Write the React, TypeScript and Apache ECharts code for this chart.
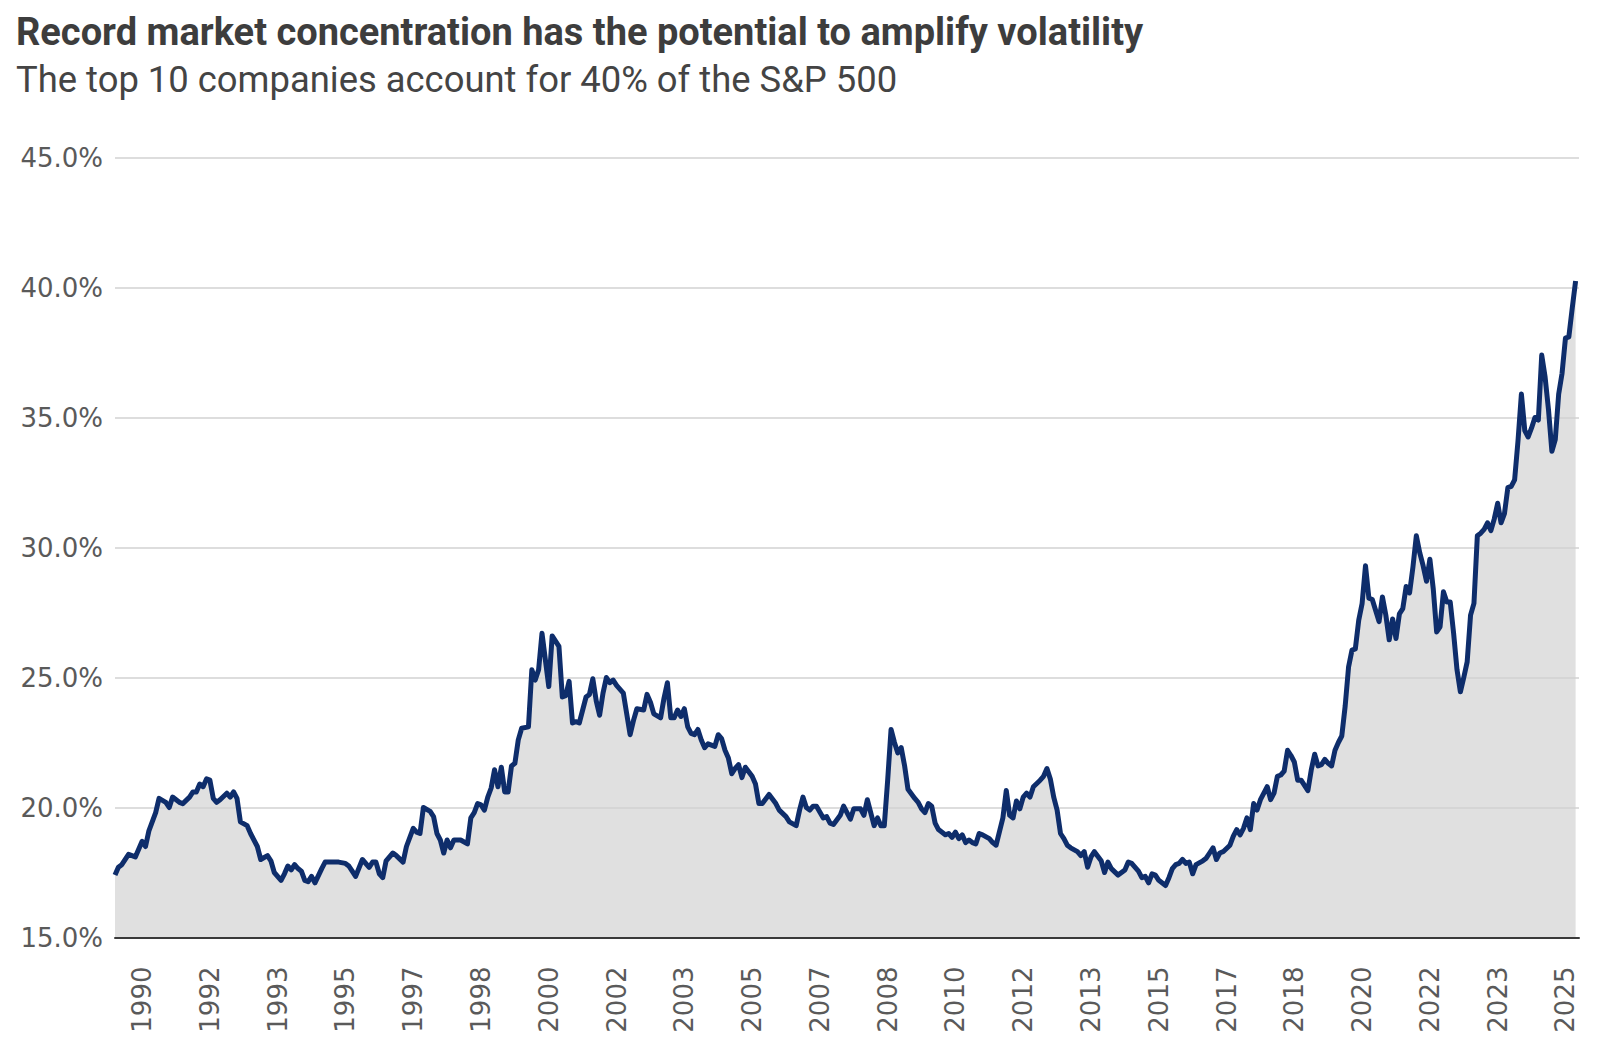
import React, { useEffect, useRef } from "react";
import * as echarts from "echarts";

const TITLE = "Record market concentration has the potential to amplify volatility";
const SUBTITLE = "The top 10 companies account for 40% of the S&P 500";

// Monthly categories, Sep 1989 – Sep 2025
const months: string[] = [];
{
  let y = 1989;
  let m = 9;
  while (y < 2025 || (y === 2025 && m <= 9)) {
    months.push(`${y}-${String(m).padStart(2, "0")}`);
    m++;
    if (m > 12) {
      m = 1;
      y++;
    }
  }
}

const yTicks = [15, 20, 25, 30, 35, 40, 45];

// Weight of the top 10 companies in the S&P 500 (%)
const share1989to1995: [string, number][] = [
  ["1989-09", 17.4], ["1989-10", 17.7], ["1989-11", 17.8], ["1990-01", 18.2], ["1990-03", 18.1],
  ["1990-05", 18.7], ["1990-06", 18.5], ["1990-07", 19.1], ["1990-09", 19.8], ["1990-10", 20.35],
  ["1990-12", 20.2], ["1991-01", 20.0], ["1991-02", 20.4], ["1991-04", 20.2], ["1991-05", 20.15],
  ["1991-07", 20.4], ["1991-08", 20.6], ["1991-09", 20.6], ["1991-10", 20.9], ["1991-11", 20.8],
  ["1991-12", 21.1], ["1992-01", 21.05], ["1992-02", 20.35], ["1992-03", 20.2], ["1992-04", 20.3],
  ["1992-06", 20.55], ["1992-07", 20.4], ["1992-08", 20.6], ["1992-09", 20.35], ["1992-10", 19.45],
  ["1992-12", 19.3], ["1993-01", 19.0], ["1993-03", 18.5], ["1993-04", 18.0], ["1993-06", 18.15],
  ["1993-07", 17.95], ["1993-08", 17.5], ["1993-10", 17.2], ["1993-11", 17.45], ["1993-12", 17.75],
  ["1994-01", 17.6], ["1994-02", 17.8], ["1994-03", 17.65], ["1994-04", 17.55], ["1994-05", 17.2],
  ["1994-06", 17.15], ["1994-07", 17.35], ["1994-08", 17.1], ["1994-10", 17.65], ["1994-11", 17.9],
  ["1994-12", 17.9], ["1995-03", 17.9], ["1995-05", 17.85], ["1995-06", 17.75], ["1995-07", 17.55],
  ["1995-08", 17.35], ["1995-10", 18.0], ["1995-12", 17.7],
];

const share1996to2002: [string, number][] = [
  ["1996-01", 17.9], ["1996-02", 17.9], ["1996-03", 17.45], ["1996-04", 17.3], ["1996-05", 17.95],
  ["1996-07", 18.25], ["1996-08", 18.15], ["1996-10", 17.9], ["1996-11", 18.5], ["1997-01", 19.2],
  ["1997-02", 19.05], ["1997-03", 19.0], ["1997-04", 20.0], ["1997-06", 19.85], ["1997-07", 19.65],
  ["1997-08", 19.0], ["1997-09", 18.75], ["1997-10", 18.25], ["1997-11", 18.75], ["1997-12", 18.45],
  ["1998-01", 18.75], ["1998-03", 18.75], ["1998-05", 18.6], ["1998-06", 19.6], ["1998-07", 19.8],
  ["1998-08", 20.15], ["1998-09", 20.1], ["1998-10", 19.9], ["1998-11", 20.4], ["1998-12", 20.75],
  ["1999-01", 21.45], ["1999-02", 20.8], ["1999-03", 21.55], ["1999-04", 20.6], ["1999-05", 20.6],
  ["1999-06", 21.6], ["1999-07", 21.7], ["1999-08", 22.6], ["1999-09", 23.05], ["1999-11", 23.1],
  ["1999-12", 25.3], ["2000-01", 24.9], ["2000-02", 25.3], ["2000-03", 26.7], ["2000-05", 24.65],
  ["2000-06", 26.6], ["2000-08", 26.2], ["2000-09", 24.25], ["2000-10", 24.3], ["2000-11", 24.85],
  ["2000-12", 23.25], ["2001-01", 23.3], ["2001-02", 23.25], ["2001-04", 24.25], ["2001-05", 24.35],
  ["2001-06", 24.95], ["2001-07", 24.1], ["2001-08", 23.55], ["2001-09", 24.4], ["2001-10", 25.0],
  ["2001-11", 24.8], ["2001-12", 24.9], ["2002-01", 24.7], ["2002-03", 24.4], ["2002-04", 23.6],
  ["2002-05", 22.8], ["2002-06", 23.35], ["2002-07", 23.8], ["2002-09", 23.75], ["2002-10", 24.35],
  ["2002-11", 24.05], ["2002-12", 23.6],
];

const share2003to2009: [string, number][] = [
  ["2003-02", 23.45], ["2003-03", 24.2], ["2003-04", 24.8], ["2003-05", 23.45], ["2003-06", 23.45],
  ["2003-07", 23.75], ["2003-08", 23.5], ["2003-09", 23.8], ["2003-10", 23.1], ["2003-11", 22.85],
  ["2003-12", 22.8], ["2004-01", 23.0], ["2004-02", 22.6], ["2004-03", 22.3], ["2004-04", 22.45],
  ["2004-06", 22.35], ["2004-07", 22.8], ["2004-08", 22.65], ["2004-09", 22.2], ["2004-10", 21.9],
  ["2004-11", 21.3], ["2004-12", 21.5], ["2005-01", 21.65], ["2005-02", 21.15], ["2005-03", 21.55],
  ["2005-05", 21.2], ["2005-06", 20.9], ["2005-07", 20.15], ["2005-08", 20.15], ["2005-10", 20.5],
  ["2005-12", 20.15], ["2006-01", 19.9], ["2006-03", 19.65], ["2006-04", 19.45], ["2006-06", 19.3],
  ["2006-07", 19.9], ["2006-08", 20.4], ["2006-09", 20.0], ["2006-10", 19.9], ["2006-11", 20.05],
  ["2006-12", 20.05], ["2007-02", 19.6], ["2007-03", 19.65], ["2007-04", 19.4], ["2007-05", 19.35],
  ["2007-07", 19.7], ["2007-08", 20.05], ["2007-10", 19.55], ["2007-11", 19.95], ["2008-01", 19.95],
  ["2008-02", 19.7], ["2008-03", 20.3], ["2008-04", 19.8], ["2008-05", 19.3], ["2008-06", 19.6],
  ["2008-07", 19.3], ["2008-08", 19.3], ["2008-09", 21.05], ["2008-10", 23.0], ["2008-11", 22.5],
  ["2008-12", 22.1], ["2009-01", 22.3], ["2009-02", 21.6], ["2009-03", 20.7], ["2009-05", 20.35],
  ["2009-06", 20.2], ["2009-07", 19.95], ["2009-08", 19.8], ["2009-09", 20.15], ["2009-10", 20.05],
  ["2009-11", 19.4], ["2009-12", 19.15],
];

const share2010to2016: [string, number][] = [
  ["2010-02", 18.95], ["2010-03", 19.0], ["2010-04", 18.85], ["2010-05", 19.05], ["2010-06", 18.8],
  ["2010-07", 18.95], ["2010-08", 18.65], ["2010-09", 18.75], ["2010-10", 18.65], ["2010-11", 18.6],
  ["2010-12", 19.0], ["2011-01", 18.95], ["2011-03", 18.8], ["2011-04", 18.65], ["2011-05", 18.55],
  ["2011-07", 19.6], ["2011-08", 20.65], ["2011-09", 19.7], ["2011-10", 19.6], ["2011-11", 20.25],
  ["2011-12", 19.95], ["2012-01", 20.4], ["2012-02", 20.55], ["2012-03", 20.4], ["2012-04", 20.8],
  ["2012-06", 21.05], ["2012-07", 21.2], ["2012-08", 21.5], ["2012-09", 21.1], ["2012-10", 20.4],
  ["2012-11", 19.9], ["2012-12", 19.0], ["2013-01", 18.8], ["2013-02", 18.55], ["2013-03", 18.45],
  ["2013-05", 18.3], ["2013-06", 18.15], ["2013-07", 18.3], ["2013-08", 17.7], ["2013-09", 18.1],
  ["2013-10", 18.3], ["2013-12", 17.95], ["2014-01", 17.5], ["2014-02", 17.9], ["2014-03", 17.65],
  ["2014-05", 17.4], ["2014-06", 17.5], ["2014-07", 17.6], ["2014-08", 17.9], ["2014-09", 17.85],
  ["2014-11", 17.55], ["2014-12", 17.3], ["2015-01", 17.35], ["2015-02", 17.1], ["2015-03", 17.45],
  ["2015-04", 17.4], ["2015-05", 17.2], ["2015-07", 17.0], ["2015-08", 17.3], ["2015-09", 17.65],
  ["2015-10", 17.8], ["2015-11", 17.85], ["2015-12", 18.0], ["2016-01", 17.85], ["2016-02", 17.9],
  ["2016-03", 17.45], ["2016-04", 17.8], ["2016-06", 17.95], ["2016-07", 18.05], ["2016-08", 18.25],
  ["2016-09", 18.45], ["2016-10", 18.0], ["2016-11", 18.25], ["2016-12", 18.3],
];

const share2017to2021: [string, number][] = [
  ["2017-02", 18.55], ["2017-03", 18.9], ["2017-04", 19.15], ["2017-05", 18.95], ["2017-06", 19.2],
  ["2017-07", 19.6], ["2017-08", 19.15], ["2017-09", 20.15], ["2017-10", 19.9], ["2017-11", 20.3],
  ["2018-01", 20.8], ["2018-02", 20.3], ["2018-03", 20.55], ["2018-04", 21.2], ["2018-05", 21.25],
  ["2018-06", 21.4], ["2018-07", 22.2], ["2018-08", 22.0], ["2018-09", 21.75], ["2018-10", 21.05],
  ["2018-11", 21.05], ["2018-12", 20.85], ["2019-01", 20.65], ["2019-02", 21.45], ["2019-03", 22.05],
  ["2019-04", 21.6], ["2019-05", 21.65], ["2019-06", 21.85], ["2019-07", 21.7], ["2019-08", 21.6],
  ["2019-09", 22.2], ["2019-10", 22.5], ["2019-11", 22.75], ["2019-12", 23.9], ["2020-01", 25.4],
  ["2020-02", 26.05], ["2020-03", 26.1], ["2020-04", 27.2], ["2020-05", 27.85], ["2020-06", 29.3],
  ["2020-07", 28.05], ["2020-08", 28.0], ["2020-10", 27.15], ["2020-11", 28.1], ["2020-12", 27.4],
  ["2021-01", 26.45], ["2021-02", 27.25], ["2021-03", 26.5], ["2021-04", 27.45], ["2021-05", 27.65],
  ["2021-06", 28.5], ["2021-07", 28.25], ["2021-08", 29.25], ["2021-09", 30.45], ["2021-10", 29.8],
  ["2021-11", 29.3], ["2021-12", 28.7],
];

const share2022to2025: [string, number][] = [
  ["2022-01", 29.55], ["2022-02", 28.4], ["2022-03", 26.75], ["2022-04", 26.95], ["2022-05", 28.3],
  ["2022-06", 27.9], ["2022-07", 27.9], ["2022-08", 26.7], ["2022-09", 25.3], ["2022-10", 24.45],
  ["2022-11", 25.0], ["2022-12", 25.6], ["2023-01", 27.4], ["2023-02", 27.85], ["2023-03", 30.45],
  ["2023-04", 30.55], ["2023-05", 30.7], ["2023-06", 30.95], ["2023-07", 30.65], ["2023-08", 31.1],
  ["2023-09", 31.7], ["2023-10", 30.95], ["2023-11", 31.3], ["2023-12", 32.3], ["2024-01", 32.35],
  ["2024-02", 32.6], ["2024-03", 34.1], ["2024-04", 35.9], ["2024-05", 34.5], ["2024-06", 34.25],
  ["2024-07", 34.6], ["2024-08", 35.0], ["2024-09", 34.9], ["2024-10", 37.4], ["2024-11", 36.55],
  ["2024-12", 35.3], ["2025-01", 33.7], ["2025-02", 34.15], ["2025-03", 35.9], ["2025-04", 36.7],
  ["2025-05", 38.05], ["2025-06", 38.1], ["2025-07", 39.2], ["2025-08", 40.25],
];

const firstLabelIndex = 8; // May 1990
const labelEvery = 20; // months between year labels

export default function App() {
  const ref = useRef<HTMLDivElement>(null);

  useEffect(() => {
    if (!ref.current) return;
    const chart = echarts.init(ref.current, null, { renderer: "svg" });

    const allShares = [
      ...share1989to1995,
      ...share1996to2002,
      ...share2003to2009,
      ...share2010to2016,
      ...share2017to2021,
      ...share2022to2025,
    ];
    const seriesData = allShares.map(([d, v]) => [months.indexOf(d), v]);

    chart.setOption({
      animation: false,
      backgroundColor: "#ffffff",
      title: [
        {
          text: TITLE,
          left: 11,
          top: 8,
          textStyle: {
            fontFamily: "Roboto",
            fontWeight: "bold",
            fontSize: 38,
            color: "#3d3d3d",
          },
        },
        {
          text: SUBTITLE,
          left: 11,
          top: 56,
          textStyle: {
            fontFamily: "Roboto",
            fontWeight: "normal",
            fontSize: 36.4,
            color: "#444444",
          },
        },
      ],
      grid: {
        left: 115,
        right: 21,
        top: 157.5,
        bottom: 119.5,
      },
      xAxis: {
        type: "category",
        data: months,
        boundaryGap: false,
        z: 2,
        axisLine: { show: true, lineStyle: { color: "#3a3a3a", width: 2 } },
        axisTick: { show: false },
        splitLine: { show: false },
        axisLabel: {
          interval: (index: number) =>
            index >= firstLabelIndex && (index - firstLabelIndex) % labelEvery === 0,
          rotate: 90,
          margin: 29,
          formatter: (v: string) => v.slice(0, 4),
          fontFamily: "DejaVu Sans",
          fontSize: 26,
          color: "#5a5a5a",
        },
      },
      yAxis: {
        type: "value",
        min: yTicks[0],
        max: yTicks[yTicks.length - 1],
        interval: 5,
        z: 2,
        axisLine: { show: false },
        axisTick: { show: false },
        splitLine: { show: true, lineStyle: { color: "#d2d2d2", width: 1.5 } },
        axisLabel: {
          formatter: (v: number) => `${v.toFixed(1)}%`,
          fontFamily: "DejaVu Sans",
          fontSize: 26,
          color: "#5a5a5a",
          margin: 12,
        },
      },
      series: [
        {
          name: "area",
          type: "line",
          z: 1,
          data: seriesData,
          showSymbol: false,
          symbol: "none",
          silent: true,
          lineStyle: { width: 0, opacity: 0 },
          areaStyle: { color: "#e0e0e0", opacity: 1 },
        },
        {
          name: "Top 10 share",
          type: "line",
          z: 3,
          data: seriesData,
          showSymbol: false,
          symbol: "none",
          lineStyle: { color: "#0e2d6b", width: 5, join: "round" },
        },
      ],
    });

    return () => chart.dispose();
  }, []);

  return (
    <div
      ref={ref}
      style={{ position: "absolute", left: 0, top: 0, width: 1600, height: 1057, background: "#fff" }}
    />
  );
}
